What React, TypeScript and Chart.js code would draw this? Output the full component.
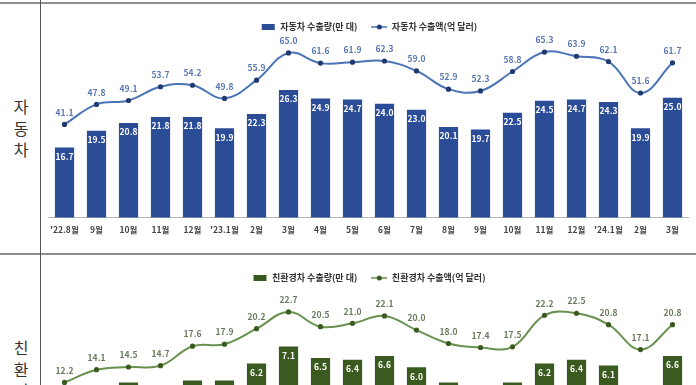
import React, { useEffect, useRef } from 'react';
import { Chart, registerables } from 'chart.js';

Chart.register(...registerables);

// ---------- data ----------
const categories = [
  "'22.8월", '9월', '10월', '11월', '12월', "'23.1월", '2월', '3월', '4월', '5월',
  '6월', '7월', '8월', '9월', '10월', '11월', '12월', "'24.1월", '2월', '3월',
];

const carVolumeLabel = '자동차 수출량(만 대)';
const carValueLabel = '자동차 수출액(억 달러)';
const carVolume = [16.7, 19.5, 20.8, 21.8, 21.8, 19.9, 22.3, 26.3, 24.9, 24.7, 24.0, 23.0, 20.1, 19.7, 22.5, 24.5, 24.7, 24.3, 19.9, 25.0];
const carValue = [41.1, 47.8, 49.1, 53.7, 54.2, 49.8, 55.9, 65.0, 61.6, 61.9, 62.3, 59.0, 52.9, 52.3, 58.8, 65.3, 63.9, 62.1, 51.6, 61.7];

const ecoVolumeLabel = '친환경차 수출량(만 대)';
const ecoValueLabel = '친환경차 수출액(억 달러)';
const ecoVolume = [4.3, 4.6, 5.2, 4.9, 5.3, 5.3, 6.2, 7.1, 6.5, 6.4, 6.6, 6.0, 5.2, 4.8, 5.2, 6.2, 6.4, 6.1, 5.0, 6.6];
const ecoValue = [12.2, 14.1, 14.5, 14.7, 17.6, 17.9, 20.2, 22.7, 20.5, 21.0, 22.1, 20.0, 18.0, 17.4, 17.5, 22.2, 22.5, 20.8, 17.1, 20.8];

const FONT = '"Noto Sans CJK KR", "Noto Sans", sans-serif';

type Panel = {
  barLabel: string;
  lineLabel: string;
  bars: number[];
  line: number[];
  barColor: string;
  lineColor: string;
  pointColor: string;
  lineTextColor: string;
  barMin: number;
  barMax: number;
  lineMin: number;
  lineMax: number;
};

const valueLabelPlugin = {
  id: 'valueLabels',
  afterDatasetsDraw(chart: any, _args: any, opts: any) {
    const ctx = chart.ctx;
    ctx.save();
    ctx.textAlign = 'center';
    ctx.textBaseline = 'middle';
    chart.data.datasets.forEach((ds: any, i: number) => {
      const meta = chart.getDatasetMeta(i);
      meta.data.forEach((el: any, j: number) => {
        const v = ds.data[j];
        const text = Number(v).toFixed(1);
        ctx.font = `bold 8.5px ${FONT}`;
        if (meta.type === 'bar') {
          ctx.fillStyle = opts.barTextColor;
          ctx.fillText(text, el.x, el.y + 9);
        } else {
          ctx.fillStyle = opts.lineTextColor;
          ctx.fillText(text, el.x, el.y - 12);
        }
      });
    });
    ctx.restore();
  },
};

function legendIcon(kind: 'bar' | 'line', fill: string, point: string) {
  const c = document.createElement('canvas');
  c.width = 16;
  c.height = 8;
  const g = c.getContext('2d')!;
  if (kind === 'bar') {
    g.fillStyle = fill;
    g.fillRect(2, 1, 13, 6);
  } else {
    g.strokeStyle = fill;
    g.lineWidth = 1.5;
    g.beginPath();
    g.moveTo(0, 4);
    g.lineTo(16, 4);
    g.stroke();
    g.fillStyle = point;
    g.beginPath();
    g.arc(8, 4, 2.5, 0, Math.PI * 2);
    g.fill();
  }
  return c;
}

function buildConfig(p: Panel): any {
  const barIcon = legendIcon('bar', p.barColor, p.barColor);
  const lineIcon = legendIcon('line', p.lineColor, p.pointColor);
  return {
    type: 'bar',
    data: {
      labels: categories,
      datasets: [
        {
          type: 'line',
          label: p.lineLabel,
          data: p.line,
          yAxisID: 'yLine',
          borderColor: p.lineColor,
          borderWidth: 2,
          tension: 0.4,
          pointRadius: 2.6,
          pointBackgroundColor: p.pointColor,
          pointBorderColor: p.pointColor,
          pointBorderWidth: 0,
          order: 0,
        },
        {
          type: 'bar',
          label: p.barLabel,
          data: p.bars,
          yAxisID: 'yBar',
          backgroundColor: p.barColor,
          categoryPercentage: 0.6,
          barPercentage: 1,
          order: 1,
        },
      ],
    },
    options: {
      responsive: false,
      animation: false,
      devicePixelRatio: 1,
      events: [],
      layout: { padding: { top: 4.5, left: 7.5, right: 7.5, bottom: 12.4 } },
      scales: {
        x: {
          offset: true,
          grid: { display: false, drawTicks: false },
          border: { display: true, color: '#b5b5b5', width: 1 },
          ticks: {
            padding: 7,
            color: '#444',
            autoSkip: false,
            maxRotation: 0,
            font: { family: FONT, size: 8.5, weight: 'bold' },
          },
        },
        yBar: { display: false, position: 'left', min: p.barMin, max: p.barMax },
        yLine: { display: false, position: 'right', min: p.lineMin, max: p.lineMax, grid: { display: false } },
      },
      plugins: {
        tooltip: { enabled: false },
        valueLabels: { barTextColor: '#ffffff', lineTextColor: p.lineTextColor },
        legend: {
          position: 'top',
          align: 'center',
          maxHeight: 29.5,
          labels: {
            usePointStyle: true,
            pointStyleWidth: 16,
            padding: 14,
            color: '#333',
            font: { family: FONT, size: 9, weight: 'bold' },
            generateLabels: () => [
              { text: p.barLabel, pointStyle: barIcon, fillStyle: p.barColor, strokeStyle: p.barColor, lineWidth: 0, hidden: false, datasetIndex: 1, fontColor: '#333' },
              { text: p.lineLabel, pointStyle: lineIcon, fillStyle: p.lineColor, strokeStyle: p.lineColor, lineWidth: 0, hidden: false, datasetIndex: 0, fontColor: '#333' },
            ],
          },
        },
      },
    },
    plugins: [valueLabelPlugin],
  };
}

const carPanel: Panel = {
  barLabel: carVolumeLabel,
  lineLabel: carValueLabel,
  bars: carVolume,
  line: carValue,
  barColor: '#2b4c96',
  lineColor: '#4b74b6',
  pointColor: '#1f3a70',
  lineTextColor: '#5877b0',
  barMin: 5,
  barMax: 35,
  lineMin: 10,
  lineMax: 70,
};

const ecoPanel: Panel = {
  barLabel: ecoVolumeLabel,
  lineLabel: ecoValueLabel,
  bars: ecoVolume,
  line: ecoValue,
  barColor: '#3b5a1f',
  lineColor: '#6a9150',
  pointColor: '#3a5a20',
  lineTextColor: '#687a5c',
  barMin: 0.66,
  barMax: 10.14,
  lineMin: -0.59,
  lineMax: 26.11,
};

function PanelChart({ panel, top }: { panel: Panel; top: number }) {
  const ref = useRef<HTMLCanvasElement>(null);
  useEffect(() => {
    const chart = new Chart(ref.current!, buildConfig(panel));
    return () => chart.destroy();
  }, [panel]);
  return (
    <canvas
      ref={ref}
      width={655}
      height={250}
      style={{ position: 'absolute', left: 41, top, width: 655, height: 250 }}
    />
  );
}

function SideLabel({ text, top }: { text: string; top: number }) {
  return (
    <div
      style={{
        position: 'absolute',
        left: 0,
        top,
        width: 42,
        textAlign: 'center',
        fontFamily: FONT,
        fontSize: 16,
        lineHeight: '21.5px',
        color: '#333',
      }}
    >
      {text.split('').map((ch, i) => (
        <div key={i}>{ch}</div>
      ))}
    </div>
  );
}

export default function App() {
  Chart.defaults.font.family = FONT;
  return (
    <div
      style={{
        position: 'absolute',
        left: 0,
        top: 0,
        width: 696,
        height: 385,
        overflow: 'hidden',
        background: '#ffffff',
      }}
    >
      <div style={{ position: 'absolute', left: 0, top: 2, width: 696, height: 2, background: '#8f8f8f' }} />
      <div style={{ position: 'absolute', left: 0, top: 253, width: 696, height: 2, background: '#8f8f8f' }} />
      <div style={{ position: 'absolute', left: 40, top: 0, width: 1, height: 385, background: '#555' }} />
      <SideLabel text="자동차" top={96} />
      <SideLabel text="친환경차" top={337} />
      <PanelChart panel={carPanel} top={4} />
      <PanelChart panel={ecoPanel} top={255} />
    </div>
  );
}
